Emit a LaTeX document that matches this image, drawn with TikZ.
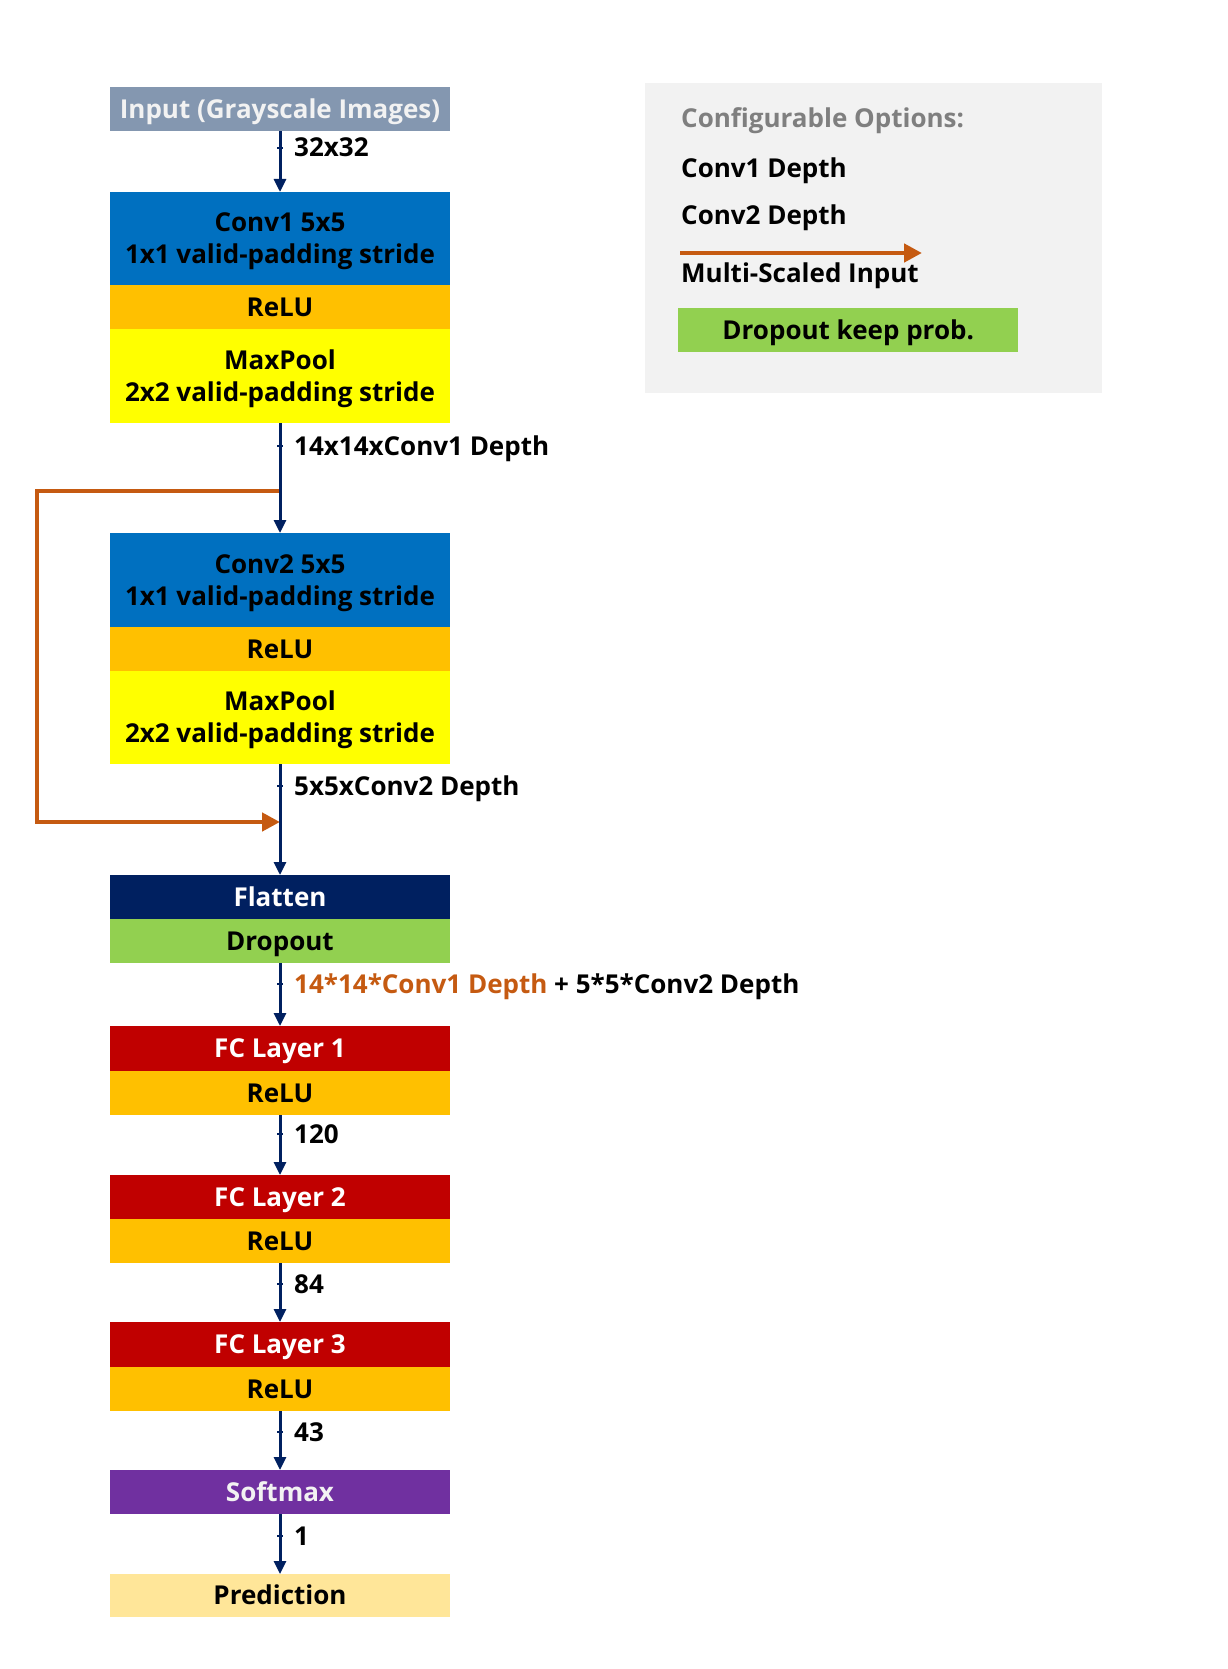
\documentclass[tikz,border=0pt]{standalone}
\usepackage{fontspec}
\setmainfont{Open Sans}
\usetikzlibrary{arrows.meta}

\definecolor{inputgray}{HTML}{8497B0}
\definecolor{convblue}{HTML}{0070C0}
\definecolor{reluorange}{HTML}{FFC000}
\definecolor{poolyellow}{HTML}{FFFF00}
\definecolor{flatnavy}{HTML}{002060}
\definecolor{dropgreen}{HTML}{92D050}
\definecolor{fcred}{HTML}{C00000}
\definecolor{softpurple}{HTML}{7030A0}
\definecolor{predcream}{HTML}{FFE699}
\definecolor{skiporange}{HTML}{C55A11}
\definecolor{legendgray}{HTML}{F2F2F2}
\definecolor{titlegray}{HTML}{7F7F7F}

\tikzset{
    layer/.style={rectangle,minimum width=340pt,inner sep=0pt,anchor=north,
        align=center,text height=18pt,text depth=0pt,
        font=\bfseries\fontsize{26}{32}\selectfont},
    twoline/.style={text height=50pt},
    flow/.style={draw=flatnavy,line width=3pt,-{Triangle[width=12pt,length=13pt]}},
    skip/.style={draw=skiporange,line width=4.5pt,-{Triangle[width=18pt,length=18pt]}},
    dims/.style={anchor=base west,inner sep=0pt,font=\bfseries\fontsize{26}{32}\selectfont},
    tick/.style={draw=flatnavy,line width=2pt},
}

\begin{document}
\begin{tikzpicture}[x=1pt,y=-1pt]
\useasboundingbox (0,0) rectangle (1227,1669);

\node[layer,fill=inputgray,text=legendgray,minimum height=44pt] (input) at (280,87) {Input (Grayscale Images)};
\node[layer,twoline,fill=convblue,minimum height=93pt] (conv1) at (280,192) {Conv1 5x5\\1x1 valid-padding stride};
\node[layer,fill=reluorange,minimum height=44pt] (relu1) at (280,285) {ReLU};
\node[layer,twoline,fill=poolyellow,minimum height=94pt] (pool1) at (280,329) {MaxPool\\2x2 valid-padding stride};
\node[layer,twoline,fill=convblue,minimum height=94pt] (conv2) at (280,533) {Conv2 5x5\\1x1 valid-padding stride};
\node[layer,fill=reluorange,minimum height=44pt] (relu2) at (280,627) {ReLU};
\node[layer,twoline,fill=poolyellow,minimum height=93pt] (pool2) at (280,671) {MaxPool\\2x2 valid-padding stride};
\node[layer,fill=flatnavy,text=white,minimum height=44pt] (flatten) at (280,875) {Flatten};
\node[layer,fill=dropgreen,minimum height=44pt] (dropout) at (280,919) {Dropout};
\node[layer,fill=fcred,text=white,minimum height=45pt] (fc1) at (280,1026) {FC Layer 1};
\node[layer,fill=reluorange,minimum height=44pt] (relu3) at (280,1071) {ReLU};
\node[layer,fill=fcred,text=white,minimum height=44pt] (fc2) at (280,1175) {FC Layer 2};
\node[layer,fill=reluorange,minimum height=44pt] (relu4) at (280,1219) {ReLU};
\node[layer,fill=fcred,text=white,minimum height=45pt] (fc3) at (280,1322) {FC Layer 3};
\node[layer,fill=reluorange,minimum height=44pt] (relu5) at (280,1367) {ReLU};
\node[layer,fill=softpurple,text=legendgray,minimum height=44pt] (softmax) at (280,1470) {Softmax};
\node[layer,fill=predcream,minimum height=43pt] (pred) at (280,1574) {Prediction};

\coordinate (split) at (280,491);
\coordinate (skipcorner) at (37,491);
\coordinate (merge) at (280,822);
\draw[skip] (split) -- (skipcorner) |- (merge);

\foreach \a/\b in {input/conv1,pool1/conv2,pool2/flatten,dropout/fc1,relu3/fc2,relu4/fc3,relu5/softmax,softmax/pred}{
    \draw[flow] (\a) -- (\b);
}

\foreach \y in {148,446,786,984,1134,1284,1432,1536}{
    \draw[tick] (277,\y)--(283,\y);
}

\node[dims] (d32) at (294,157) {32x32};
\node[dims] (d14) at (294,455) {14x14xConv1 Depth};
\node[dims] (d5) at (294,795) {5x5xConv2 Depth};
\node[dims] (dflat) at (294,993) {\textcolor{skiporange}{14*14*Conv1 Depth} + 5*5*Conv2 Depth};
\node[dims] (d120) at (294,1143) {120};
\node[dims] (d84) at (294,1293) {84};
\node[dims] (d43) at (294,1441) {43};
\node[dims] (d1) at (294,1545) {1};

\node[rectangle,fill=legendgray,anchor=north west,minimum width=457pt,minimum height=310pt,inner sep=0pt] (legend) at (645,83) {};
\node[dims,text=titlegray] (opttitle) at (681,128) {Configurable Options:};
\node[dims] (optconv1) at (681,178) {Conv1 Depth};
\node[dims] (optconv2) at (681,225) {Conv2 Depth};
\coordinate (keyfrom) at (680,253);
\coordinate (keyto) at (922,253);
\draw[skip] (keyfrom) -- (keyto);
\node[dims] (optskip) at (681,283) {Multi-Scaled Input};
\node[layer,anchor=north west,fill=dropgreen,minimum height=44pt] (optdrop) at (678,308) {Dropout keep prob.};
\end{tikzpicture}
\end{document}
